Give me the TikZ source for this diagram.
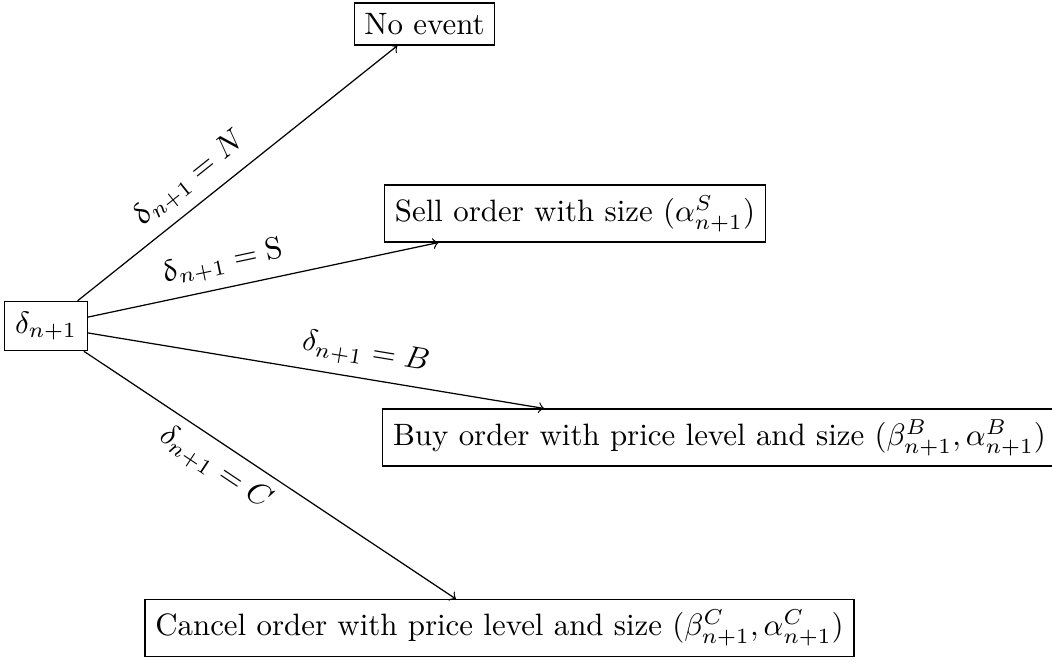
\documentclass[tikz,border=0pt]{standalone}
\usepackage{upgreek}
\begin{document}
\begin{tikzpicture}[x=0.3236pt,y=-0.3236pt,
  box/.style={draw, inner sep=3.33pt},
  conn/.style={->},
  lbl/.style={sloped}]
\useasboundingbox (0,0) rectangle (1052,662);
\node[box] (d) at (46,326) {$\delta_{n+1}$};
\node[box] (ne) at (424.5,24) {No event};
\node[box] (s) at (575,213.5) {Sell order with size $(\alpha^S_{n+1})$};
\node[box] (b) at (719.5,437.5) {Buy order with price level and size $(\beta^B_{n+1},\alpha^B_{n+1})$};
\node[box] (c) at (499.5,628) {Cancel order with price level and size $(\beta^C_{n+1},\alpha^C_{n+1})$};
\draw[conn] (d) -- node[lbl, pos=0.4, above] (lN) {$\updelta_{n+1} = N$} (ne);
\draw[conn] (d) -- node[lbl, pos=0.4, above] (lS) {$\updelta_{n+1} = \mathrm{S}$} (s);
\draw[conn] (d) -- node[lbl, pos=0.6, above] (lB) {$\delta_{n+1} = B$} (b);
\draw[conn] (d) -- node[lbl, pos=0.39, below] (lC) {$\delta_{n+1} = C$} (c);
\end{tikzpicture}
\end{document}
